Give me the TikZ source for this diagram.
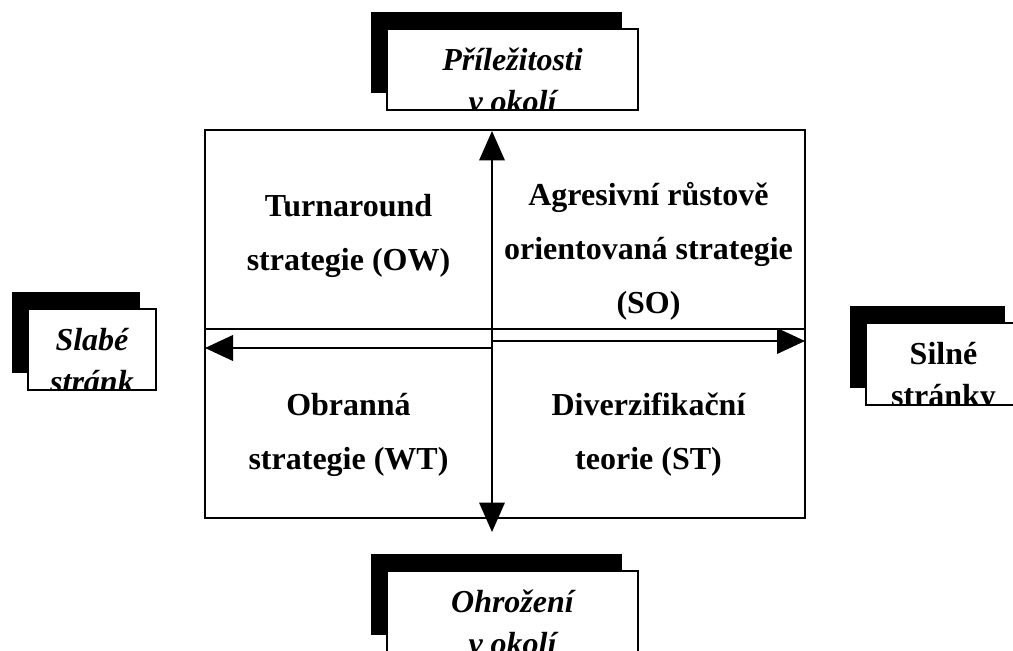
\documentclass[tikz,border=0pt]{standalone}
\usepackage{fontspec}
\setmainfont{Liberation Serif}
\usetikzlibrary{arrows.meta}

\tikzset{
  kvadrant/.style={font=\bfseries\fontsize{24}{40.2}\selectfont, align=center, anchor=base, inner sep=0pt},
  popis/.style={font=\bfseries\itshape\fontsize{24}{31.5}\selectfont, align=center, anchor=base, inner sep=0pt},
  popisrovne/.style={font=\bfseries\fontsize{24}{31.5}\selectfont, align=center, anchor=base, inner sep=0pt},
  stin/.style={fill=black},
  ramecek/.style={draw=black, fill=white, line width=1.5pt},
  ramec/.style={draw=black, line width=1.5pt},
  sipka/.style={line width=2.2pt, -{Triangle[length=21pt,width=19pt]}},
  dvojsipka/.style={line width=1.6pt, {Triangle[length=22pt,width=19pt]}-{Triangle[length=22pt,width=19pt]}},
}

% #1 jmeno, #2-#5 bily ramecek, #6 styl, #7 text (base = posledny riadok)
\newcommand{\stitek}[7]{%
  \fill[stin] (#2-16,#3-17) rectangle (#4-16,#5-17);
  \draw[ramecek] (#2,#3) rectangle (#4,#5);
  \begin{scope}
    \clip (#2,#3) rectangle (#4,#5-2);
    \node[#6] (#1) at ({(#2+#4)/2},#3+83) {#7};
  \end{scope}}

\begin{document}
\begin{tikzpicture}[x=0.75pt,y=-0.75pt]
  \clip (0,0) rectangle (1013,650);

  % stitky s tienom
  \stitek{prilezitosti}{387}{29}{638}{110}{popis}{Příležitosti\\v okolí}
  \stitek{slabe}{28}{309}{156}{390}{popis}{Slabé\\stránk}
  \stitek{silne}{866}{323}{1021}{405}{popisrovne}{Silné\\stránky}
  \stitek{ohrozeni}{387}{571}{638}{652}{popis}{Ohrožení\\v okolí}

  % matice
  \draw[ramec] (205,130) rectangle (805,518);
  \draw[ramec] (205,329) -- (805,329);

  \node[kvadrant] (ow) at (348.5,270) {Turnaround\\strategie (OW)};
  \node[kvadrant] (so) at (648.5,313) {Agresivní růstově\\orientovaná strategie\\(SO)};
  \node[kvadrant] (wt) at (348.5,469) {Obranná\\strategie (WT)};
  \node[kvadrant] (st) at (648.5,469) {Diverzifikační\\teorie (ST)};

  % osi
  \coordinate (nahore) at (492,131);
  \coordinate (dole) at (492,532);
  \coordinate (stredL) at (492,348);
  \coordinate (stredP) at (492,341);
  \coordinate (vlevo) at (205,348);
  \coordinate (vpravo) at (805,341);

  \draw[dvojsipka] (dole) -- (nahore);
  \draw[sipka] (stredL) -- (vlevo);
  \draw[sipka] (stredP) -- (vpravo);
\end{tikzpicture}
\end{document}
